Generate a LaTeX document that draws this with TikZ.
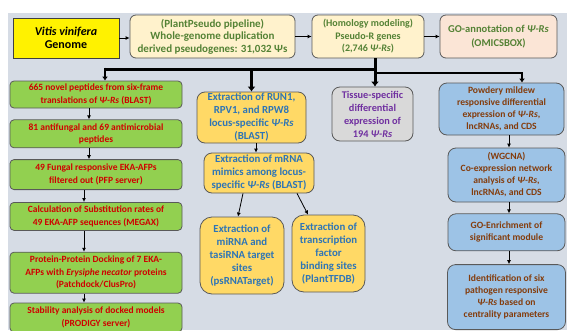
\documentclass[tikz,border=0pt]{standalone}
\usepackage{fontspec}
\setmainfont{Carlito}
\usepackage{xcolor}
\usetikzlibrary{arrows.meta,positioning,calc}
\definecolor{bgpanel}{HTML}{D6DCE5}
\definecolor{edgegray}{HTML}{595959}
\definecolor{creamfill}{HTML}{FFF2CC}
\definecolor{peachfill}{HTML}{FBE5D6}
\definecolor{olivetext}{HTML}{548235}
\definecolor{greenfill}{HTML}{92D050}
\definecolor{redtext}{HTML}{D00000}
\definecolor{goldfill}{HTML}{FFD966}
\definecolor{bluetext}{HTML}{2E75B6}
\definecolor{grayfill}{HTML}{D9D9D9}
\definecolor{purpletext}{HTML}{7030A0}
\definecolor{skyfill}{HTML}{9DC3E6}
\definecolor{browntext}{HTML}{843C0C}
\newcommand{\psir}{\textit{Ψ-Rs}}

\begin{document}
\begin{tikzpicture}[x=1pt, y=-1pt,
  box/.style={draw=edgegray, line width=0.8pt, align=center, inner sep=1pt,
              font=\bfseries\fontsize{9.5}{12.5}\selectfont},
  genbox/.style={box, fill=yellow, draw=black!75,
                 font=\bfseries\fontsize{12}{13.5}\selectfont},
  topbox/.style={box, rounded corners=6pt, fill=creamfill, text=olivetext,
                 font=\bfseries\fontsize{10.5}{12.5}\selectfont},
  pepbox/.style={box, rounded corners=4pt, fill=greenfill, text=redtext,
                 minimum width=172pt},
  locbox/.style={box, rounded corners=8pt, fill=goldfill, text=bluetext,
                 font=\bfseries\fontsize{10.8}{13}\selectfont},
  tisbox/.style={box, rounded corners=8pt, fill=grayfill, text=purpletext,
                 font=\bfseries\fontsize{10.3}{13}\selectfont},
  pmbox/.style={box, rounded corners=8pt, fill=skyfill, text=browntext,
                font=\bfseries\fontsize{9.6}{12}\selectfont},
  arr/.style={-{Latex[length=4pt,width=4pt]}, line width=0.8pt},
  trunk/.style={line width=3pt},
  bigarr/.style={trunk, -{Latex[length=5pt,width=8pt]}},
  midarr/.style={line width=1.8pt, -{Latex[length=4pt,width=6pt]}}
]
\useasboundingbox (0,0) rectangle (571,330);
\fill[bgpanel] (8,13) rectangle (567,330);

% top row
\node[genbox, minimum width=106pt, minimum height=40pt] (genome) at (66,38)
  {\textit{Vitis vinifera}\\Genome};
\node[topbox, font=\bfseries\fontsize{11}{12.5}\selectfont,
      minimum width=165pt, minimum height=43pt] (pseudo) at (212.5,36.5)
  {(PlantPseudo pipeline)\\Whole-genome duplication\\derived pseudogenes: 31,032 Ψs};
\node[topbox, font=\bfseries\fontsize{10}{12.5}\selectfont,
      minimum width=112pt, minimum height=43pt] (homol) at (368,36.5)
  {(Homology modeling)\\Pseudo-R genes\\(2,746 \psir)};
\node[topbox, fill=peachfill, minimum width=117pt, minimum height=43pt] (goann) at (498.5,36.5)
  {GO-annotation of \psir\\[2pt](OMICSBOX)};

% peptide column
\node[pepbox, minimum height=27pt] (pep1) at (96,94.5)
  {665 novel peptides from six-frame\\translations of \psir{} (BLAST)};
\node[pepbox, minimum height=28pt, below=11pt of pep1] (pep2)
  {81 antifungal and 69 antimicrobial\\peptides};
\node[pepbox, minimum height=30pt, below=11pt of pep2] (pep3)
  {49 Fungal responsive EKA-AFPs\\filtered out (PFP server)};
\node[pepbox, minimum height=28pt, below=12pt of pep3] (pep4)
  {Calculation of Substitution rates of\\49 EKA-AFP sequences (MEGAX)};
\node[pepbox, minimum height=41pt, below=21pt of pep4] (pep5)
  {Protein-Protein Docking of 7 EKA-\\AFPs with \textit{Erysiphe necator} proteins\\(Patchdock/ClusPro)};
\node[pepbox, minimum height=29pt, below=9pt of pep5] (pep6)
  {Stability analysis of docked models\\(PRODIGY server)};

% locus column
\node[locbox, minimum width=109pt, minimum height=51pt] (locus) at (251.5,117.5)
  {Extraction of RUN1,\\RPV1, and RPW8\\locus-specific \psir\\(BLAST)};
\node[locbox, minimum width=110pt, minimum height=40pt] (mimic) at (259,173)
  {Extraction of mRNA\\mimics among locus-\\specific \psir{} (BLAST)};
\node[locbox, rounded corners=12pt, minimum width=84pt, minimum height=77pt] (mirna) at (242,255.5)
  {Extraction of\\miRNA and\\tasiRNA target\\sites\\(psRNATarget)};
\node[locbox, rounded corners=12pt, minimum width=73pt, minimum height=77pt] (tfbs) at (328.5,253.5)
  {Extraction of\\transcription\\factor\\binding sites\\(PlantTFDB)};

\node[tisbox, minimum width=81pt, minimum height=54pt] (tissue) at (372.5,114)
  {Tissue-specific\\differential\\expression of\\194 \psir};

% mildew column
\node[pmbox, minimum width=125pt, minimum height=52pt] (mildew) at (501.5,109)
  {Powdery mildew\\responsive differential\\expression of \psir,\\lncRNAs, and CDS};
\node[pmbox, minimum width=117pt, minimum height=54pt] (wgcna) at (506.5,175)
  {(WGCNA)\\Co-expression network\\analysis of \psir,\\lncRNAs, and CDS};
\node[pmbox, minimum width=117pt, minimum height=37pt, below=11pt of wgcna] (goenr)
  {GO-Enrichment of\\significant module};
\node[pmbox, minimum width=118pt, minimum height=65pt, below=13pt of goenr] (hubs)
  {Identification of six\\pathogen responsive\\\psir{} based on\\centrality parameters};

\coordinate (split) at (375,69);
\coordinate (rsplit) at (375,73);

\draw[arr] (genome.east) -- (genome.east -| pseudo.west);
\draw[arr] (pseudo.east |- homol.west) -- (homol.west);
\draw[arr] (homol.east) -- (goann.west);

\draw[bigarr] (homol.south -| split) -- (tissue.north -| split);
\draw[trunk] (split) -- (split -| 105,0);
\draw[midarr] ($(split -| 105,0)+(0,-1.5)$) -- (pep1.north -| 105,0);
\draw[bigarr] (split -| locus.north) -- (locus.north);
\draw[midarr] (rsplit) -| (522,0 |- mildew.north);

\foreach \a/\b/\x in {pep1/pep2/89, pep2/pep3/89, pep3/pep4/84, pep4/pep5/84, pep5/pep6/84}
  \draw[arr] (\a.south -| \x,0) -- (\b.north -| \x,0);
\foreach \a/\b in {mildew/wgcna, wgcna/goenr, goenr/hubs}
  \draw[arr] (\a.south -| 509,0) -- (\b.north -| 509,0);

\draw[arr] (locus.south -| 256,0) -- (mimic.north -| 256,0);
\draw[arr] (mimic.south -| 243,0) -- (mirna.north -| 238,0);
\draw[arr] (mimic.south -| 297,0) -- (tfbs.north -| 308,0);
\end{tikzpicture}
\end{document}
